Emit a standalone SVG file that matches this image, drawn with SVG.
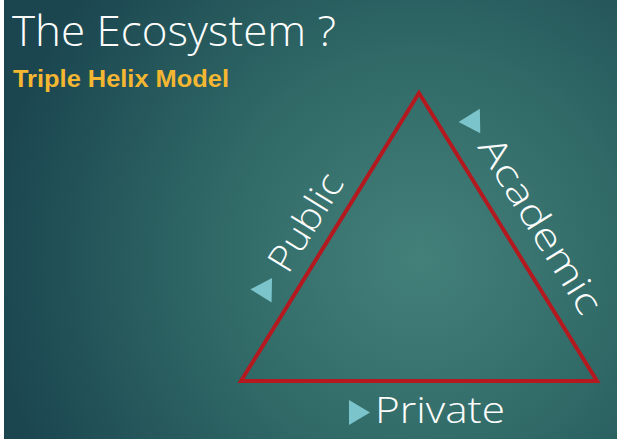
<svg xmlns="http://www.w3.org/2000/svg" width="619" height="441" viewBox="0 0 619 441">
  <defs>
    <radialGradient id="bg" cx="420" cy="260" r="430" gradientUnits="userSpaceOnUse">
      <stop offset="0" stop-color="#44807a"/>
      <stop offset="0.45" stop-color="#316b68"/>
      <stop offset="1" stop-color="#1b4650"/>
    </radialGradient>
    <polygon id="bullet" points="0,-12.5 21,0 0,12.5"/>
  </defs>
  <style>
    .title { font-family: "Open Sans", "Lato", "DejaVu Sans", sans-serif; font-weight: 300; fill: #ffffff; }
    .sub { font-family: "Liberation Sans", Arial, sans-serif; font-weight: bold; fill: #f5b731; }
    .lbl { font-family: "Open Sans", "Lato", "DejaVu Sans", sans-serif; font-weight: 300; fill: #ffffff; font-size: 37px; }
    .blt { fill: #7cc4cb; }
    .edge { fill: none; stroke: #b3191f; stroke-width: 4; stroke-linejoin: miter; }
  </style>
  <rect x="0" y="0" width="619" height="441" fill="#ffffff"/>
  <rect x="4" y="0" width="613" height="439" fill="url(#bg)"/>

  <g id="title">
    <text class="title" x="12" y="46" font-size="42" textLength="324" lengthAdjust="spacingAndGlyphs">The Ecosystem ?</text>
  </g>
  <g id="subtitle">
    <text class="sub" x="13" y="87" font-size="24" textLength="216" lengthAdjust="spacingAndGlyphs">Triple Helix Model</text>
  </g>

  <g id="connectors">
    <polygon class="edge" points="419,93 597,381 241,381"/>
  </g>

  <g id="public" transform="translate(288,275) rotate(-58.3)">
    <use href="#bullet" class="blt" x="-32" y="-12"/>
    <text class="lbl" x="0" y="0" textLength="108" lengthAdjust="spacingAndGlyphs">Public</text>
  </g>
  <g id="academic" transform="translate(477,147) rotate(58.3)">
    <use href="#bullet" class="blt" x="-31" y="-10"/>
    <text class="lbl" x="0" y="0" textLength="200" lengthAdjust="spacingAndGlyphs">Academic</text>
  </g>
  <g id="private" transform="translate(375,423)">
    <use href="#bullet" class="blt" x="-26" y="-10.5"/>
    <text class="lbl" x="0" y="0" textLength="130" lengthAdjust="spacingAndGlyphs">Private</text>
  </g>
</svg>
